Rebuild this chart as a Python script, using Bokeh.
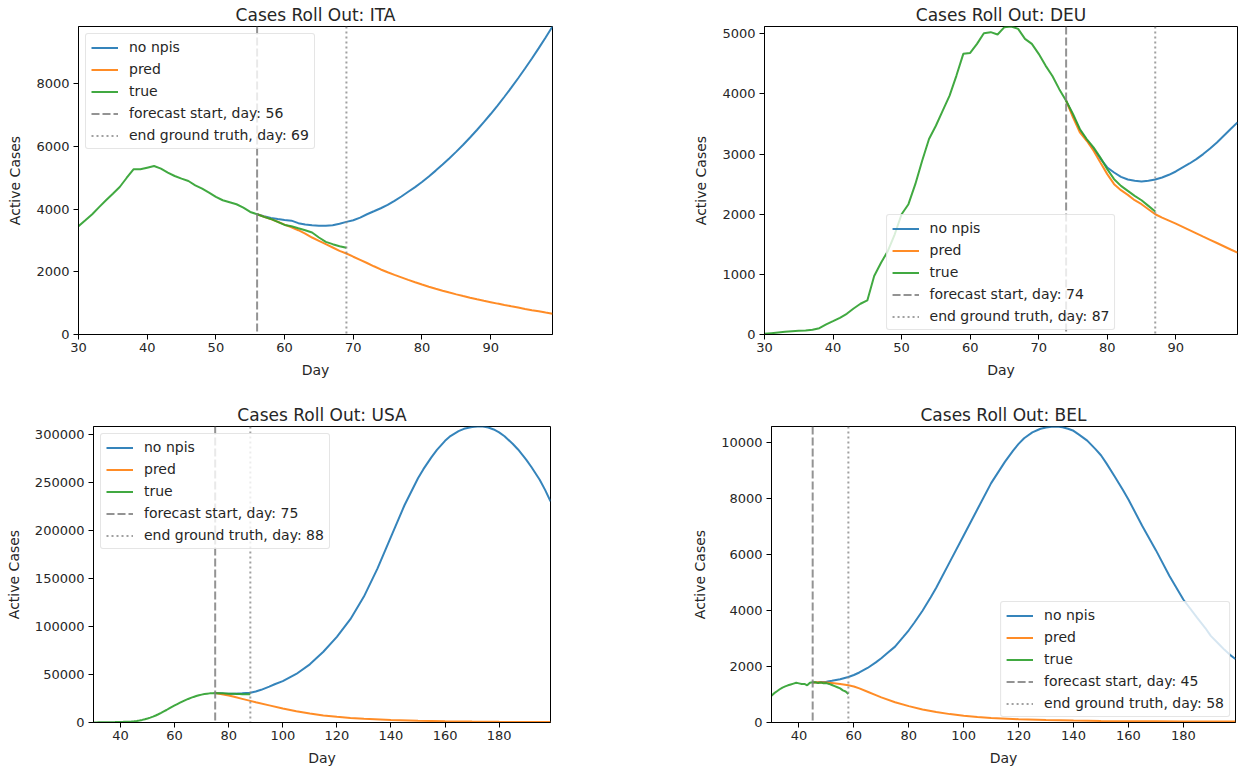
from bokeh.plotting import figure
from bokeh.models import Range1d, Legend, LegendItem, FixedTicker, BasicTickFormatter
from bokeh.layouts import column, row
from bokeh.embed import file_html
from bokeh.resources import INLINE

# ---------------- data ----------------
# ITA
ita_true_days = list(range(30, 70))
ita_true = [3452, 3640, 3834, 4060, 4280, 4490, 4703, 4990, 5266, 5266,
            5319, 5372, 5287, 5160, 5053, 4970, 4894, 4757, 4650, 4524,
            4385, 4280, 4216, 4152, 4046, 3907, 3834, 3749, 3685, 3590,
            3494, 3452, 3388, 3325, 3251, 3092, 2953, 2880, 2816, 2763]
ita_fc_days = list(range(56, 100))
ita_nonpi = [3834, 3775, 3717, 3680, 3650, 3630, 3550, 3505, 3484, 3468,
             3465, 3484, 3530, 3590, 3643, 3728, 3834, 3929, 4025, 4130,
             4260, 4400, 4550, 4700, 4862, 5040, 5225, 5418, 5620, 5830,
             6050, 6280, 6520, 6770, 7030, 7300, 7580, 7870, 8170, 8480,
             8800, 9130, 9470, 9820]
ita_pred = [3834, 3755, 3680, 3595, 3505, 3420, 3325, 3219, 3092, 2986,
            2880, 2774, 2668, 2583, 2480, 2380, 2280, 2175, 2074, 1985,
            1900, 1820, 1740, 1665, 1592, 1525, 1460, 1397, 1337, 1280,
            1225, 1173, 1123, 1075, 1030, 985, 942, 900, 860, 815,
            775, 738, 700, 665]
ita_forecast_start = 56
ita_end_truth = 69

# DEU
deu_true_days = list(range(30, 88))
deu_true = [11, 22, 33, 44, 55, 61, 67, 78, 105, 167,
            222, 278, 344, 433, 511, 567, 972, 1194, 1389, 1667,
            2000, 2167, 2500, 2889, 3250, 3472, 3722, 3972, 4306, 4667,
            4683, 4833, 5011, 5028, 4989, 5111, 5122, 5083, 4917, 4833,
            4667, 4472, 4300, 4080, 3888, 3667, 3417, 3250, 3111, 2944,
            2750, 2583, 2472, 2389, 2306, 2233, 2139, 2044]
deu_fc_days = list(range(74, 100))
deu_nonpi = [3888, 3640, 3400, 3235, 3085, 2925, 2778, 2694, 2622, 2578,
             2556, 2544, 2556, 2578, 2611, 2656, 2711, 2778, 2844, 2917,
             3000, 3094, 3194, 3306, 3417, 3528]
deu_pred = [3888, 3611, 3361, 3222, 3056, 2861, 2667, 2500, 2400, 2322,
            2233, 2167, 2083, 2000, 1944, 1894, 1844, 1790, 1736, 1682,
            1628, 1575, 1522, 1468, 1414, 1361]
deu_forecast_start = 74
deu_end_truth = 87

# USA
usa_true_days = list(range(30, 89))
usa_true = [100, 120, 150, 180, 220, 260, 310, 370, 430, 500,
            580, 660, 760, 880, 1050, 1300, 1650, 2100, 2700, 3400,
            4200, 5100, 6100, 7300, 8600, 10000, 11500, 13000, 14600, 16200,
            17700, 19200, 20600, 22000, 23300, 24500, 25600, 26600, 27500, 28300,
            29000, 29600, 30000, 30300, 30500, 30600, 30500, 30400, 30300, 30150,
            30000, 29900, 29800, 29700, 29600, 29500, 29400, 29350, 29300]
usa_nonpi_days = [75, 78, 80, 82, 85, 88, 90, 92, 95, 97, 100, 105, 110, 115,
                  120, 125, 130, 135, 140, 145, 150, 152, 155, 157, 160, 162,
                  165, 167, 170, 172, 174, 176, 178, 180, 182, 185, 187, 190,
                  192, 195, 197, 199]
usa_nonpi = [30600, 30200, 30000, 29950, 30300, 31000, 32200, 34000, 37300,
             39800, 43000, 50500, 60500, 73600, 89000, 107500, 131000, 160000,
             193000, 226000, 254000, 263500, 276000, 283500, 293000, 298000,
             303000, 305500, 307300, 307900, 307800, 306800, 304800, 301800,
             297800, 290000, 284000, 273500, 265500, 252500, 242000, 230000]
usa_pred_days = [75, 78, 80, 82, 85, 88, 90, 95, 100, 105, 110, 115, 120, 125,
                 130, 140, 150, 160, 170, 180, 190, 199]
usa_pred = [30600, 29200, 28000, 26700, 24600, 22500, 21000, 17800, 14500,
            11700, 9300, 7400, 5900, 4700, 3800, 2500, 1700, 1250, 950, 700,
            520, 400]
usa_forecast_start = 75
usa_end_truth = 88

# BEL
bel_true_days = list(range(30, 59))
bel_true = [960, 1050, 1120, 1190, 1250, 1290, 1330, 1360, 1390, 1420,
            1400, 1380, 1380, 1330, 1420, 1440, 1440, 1410, 1430, 1400,
            1410, 1380, 1340, 1300, 1260, 1220, 1150, 1110, 1020]
bel_nonpi_days = [45, 47, 50, 52, 55, 58, 60, 62, 65, 68, 70, 72, 75, 78, 80,
                  82, 85, 88, 90, 95, 100, 105, 110, 115, 118, 120, 122, 125,
                  128, 130, 132, 134, 136, 138, 140, 142, 145, 148, 150, 152,
                  155, 158, 160, 165, 170, 175, 180, 185, 188, 190, 193, 195,
                  197, 199]
bel_nonpi = [1430, 1440, 1460, 1490, 1545, 1626, 1700, 1790, 1950, 2150, 2300,
             2470, 2714, 3060, 3300, 3570, 4000, 4480, 4820, 5756, 6692, 7628,
             8564, 9325, 9730, 9968, 10170, 10378, 10510, 10553, 10585, 10590,
             10565, 10510, 10436, 10300, 10085, 9780, 9560, 9270, 8800, 8320,
             7980, 7040, 6166, 5230, 4400, 3750, 3380, 3100, 2800, 2600, 2420,
             2270]
bel_pred_days = [45, 47, 50, 52, 55, 58, 60, 62, 65, 68, 70, 75, 80, 85, 90, 95,
                 100, 105, 110, 120, 130, 140, 150, 160, 170, 180, 190, 199]
bel_pred = [1430, 1440, 1430, 1410, 1380, 1330, 1290, 1220, 1100, 980, 900,
            725, 585, 468, 374, 300, 240, 200, 164, 117, 90, 70, 57, 47, 42,
            38, 35, 33]
bel_forecast_start = 45
bel_end_truth = 58

short_xticks = [30, 40, 50, 60, 70, 80, 90]
long_xticks = [40, 60, 80, 100, 120, 140, 160, 180]
ita_yticks = [0, 2000, 4000, 6000, 8000]
deu_yticks = [0, 1000, 2000, 3000, 4000, 5000]
usa_yticks = [0, 50000, 100000, 150000, 200000, 250000, 300000]
bel_yticks = [0, 2000, 4000, 6000, 8000, 10000]

# ---------------- style ----------------
FONT = "DejaVu Sans"
TICK_FS = "13px"
LABEL_FS = "14px"
BLUE, ORANGE, GREEN, GRAY = "#1f77b4", "#ff7f0e", "#2ca02c", "#808080"
TXT = "#262626"


def panel(code, true_days, true_vals, nonpi_days, nonpi_vals, pred_days, pred_vals,
          fs_day, gt_day, xticks, yticks, legend_loc, legend_margin, width, height, borders):
    left, right, top, bottom = borders
    xmax = max(max(true_days), max(nonpi_days), max(pred_days))
    ymax = max(max(true_vals), max(nonpi_vals), max(pred_vals))
    p = figure(width=width, height=height, output_backend="svg",
               toolbar_location=None, x_range=Range1d(30, xmax),
               y_range=Range1d(0, ymax), min_border=0,
               min_border_left=left, min_border_right=right,
               min_border_top=top, min_border_bottom=bottom)
    p.title.text = "Cases Roll Out: " + code
    p.title.align = "center"
    p.title.text_font = FONT
    p.title.text_font_size = "17px"
    p.title.text_font_style = "normal"
    p.title.text_color = TXT
    p.title.standoff = 3
    p.xgrid.visible = False
    p.ygrid.visible = False
    p.outline_line_color = "black"
    p.outline_line_width = 1
    p.outline_line_alpha = 1
    p.background_fill_color = "white"
    p.border_fill_color = "white"

    p.xaxis.ticker = FixedTicker(ticks=xticks)
    p.yaxis.ticker = FixedTicker(ticks=yticks)
    p.yaxis.formatter = BasicTickFormatter(use_scientific=False)
    p.xaxis.axis_label = "Day"
    p.yaxis.axis_label = "Active Cases"
    for ax in p.axis:
        ax.major_tick_out = 5
        ax.major_tick_in = 0
        ax.minor_tick_out = 0
        ax.minor_tick_in = 0
        ax.major_tick_line_color = "black"
        ax.axis_line_color = "black"
        ax.major_label_text_font = FONT
        ax.major_label_text_font_size = TICK_FS
        ax.major_label_text_color = TXT
        ax.axis_label_text_font = FONT
        ax.axis_label_text_font_size = LABEL_FS
        ax.axis_label_text_font_style = "normal"
        ax.axis_label_text_color = TXT
    p.xaxis.major_label_standoff = 3
    p.xaxis.axis_label_standoff = 7
    p.yaxis.major_label_standoff = 4
    p.yaxis.axis_label_standoff = 10

    r1 = p.line(nonpi_days, nonpi_vals, line_color=BLUE, line_width=2, line_alpha=0.9)
    r2 = p.line(pred_days, pred_vals, line_color=ORANGE, line_width=2, line_alpha=0.9)
    r3 = p.line(true_days, true_vals, line_color=GREEN, line_width=2, line_alpha=0.9)

    dash = "8 3"
    dot = "2 3"
    r4 = p.line([fs_day, fs_day], [ymax, 0], line_color=GRAY, line_width=2,
                line_dash=dash, line_alpha=0.85)
    r5 = p.line([gt_day, gt_day], [ymax, 0], line_color=GRAY, line_width=2,
                line_dash=dot, line_alpha=0.75)

    legend = Legend(items=[
        LegendItem(label="no npis", renderers=[r1]),
        LegendItem(label="pred", renderers=[r2]),
        LegendItem(label="true", renderers=[r3]),
        LegendItem(label="forecast start, day: %d" % fs_day, renderers=[r4]),
        LegendItem(label="end ground truth, day: %d" % gt_day, renderers=[r5]),
    ], location=legend_loc)
    legend.label_text_font = FONT
    legend.label_text_font_size = LABEL_FS
    legend.label_text_color = TXT
    legend.glyph_width = 27
    legend.glyph_height = 15
    legend.label_height = 15
    legend.label_standoff = 11
    legend.spacing = 6
    legend.padding = 5
    legend.margin = legend_margin
    legend.border_line_color = "#cccccc"
    legend.border_line_width = 1
    legend.background_fill_color = "white"
    legend.background_fill_alpha = 0.8
    if "border_radius" in Legend.properties():
        legend.border_radius = 3
    p.add_layout(legend)
    return p


p_ita = panel("ITA", ita_true_days, ita_true, ita_fc_days, ita_nonpi, ita_fc_days, ita_pred,
              ita_forecast_start, ita_end_truth, short_xticks, ita_yticks, "top_left", 7,
              572, 392, (78, 20, 26, 58))
p_deu = panel("DEU", deu_true_days, deu_true, deu_fc_days, deu_nonpi, deu_fc_days, deu_pred,
              deu_forecast_start, deu_end_truth, short_xticks, deu_yticks, "bottom_center", 4,
              666, 392, (192, 1, 26, 58))
p_usa = panel("USA", usa_true_days, usa_true, usa_nonpi_days, usa_nonpi, usa_pred_days, usa_pred,
              usa_forecast_start, usa_end_truth, long_xticks, usa_yticks, "top_left", 7,
              570, 377, (93, 20, 34, 46))
p_bel = panel("BEL", bel_true_days, bel_true, bel_nonpi_days, bel_nonpi, bel_pred_days, bel_pred,
              bel_forecast_start, bel_end_truth, long_xticks, bel_yticks, "bottom_right", 5,
              668, 377, (201, 3, 29, 47))

layout = column(row(p_ita, p_deu), row(p_usa, p_bel))
open("out.html", "w").write(file_html(layout, INLINE))
